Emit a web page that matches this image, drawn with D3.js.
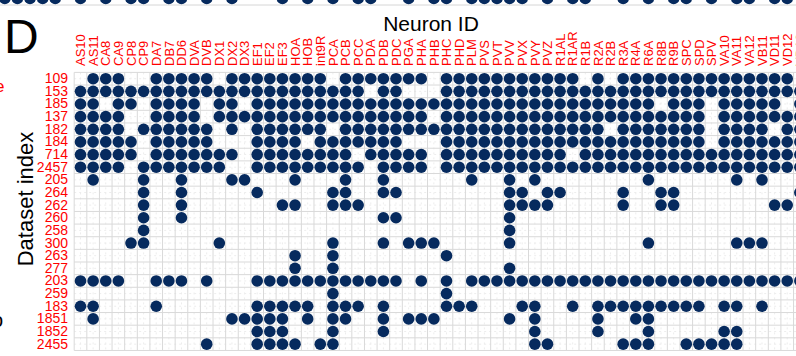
<!DOCTYPE html>
<html><head><meta charset="utf-8">
<script src="https://cdn.jsdelivr.net/npm/d3@7"></script>
<style>html,body{margin:0;padding:0;background:#fff;overflow:hidden}</style>
</head><body>
<svg id="chart" width="796" height="356"></svg>
<script>
// ---- data ----
const neurons = ["AS10","AS11","CA8","CA9","CP8","CP9","DA7","DB7","DD6","DVA","DVB","DX1","DX2","DX3","EF1","EF2","EF3","HOA","HOB","int9R","PCA","PCB","PCC","PDA","PDB","PDC","PGA","PHA","PHB","PHC","PHD","PLM","PVS","PVT","PVV","PVX","PVY","PVZ","R1AL","R1AR","R1B","R2A","R2B","R3A","R4A","R6A","R8B","R9B","SPC","SPD","SPV","VA10","VA11","VA12","VB11","VD11","VD12","VD13"];
const datasets = ["109","153","185","137","182","184","714","2457","205","264","262","260","258","300","263","277","203","259","183","1851","1852","2455"];
// one string per dataset, one character per neuron (1 = detected)
const presence = [
  "0111001111"+"1011111111"+"0111111101"+"1111111111"+"0101111111"+"11111110",
  "1111111111"+"1111111111"+"1110110001"+"1111111111"+"1111111111"+"11111111",
  "1101101111"+"0110111111"+"1111111111"+"1111111111"+"1111110111"+"01111101",
  "1111001111"+"0111111111"+"1111111101"+"1111111111"+"1111111111"+"01111111",
  "1111011111"+"1010111111"+"0111111111"+"1111111111"+"1101111111"+"01111011",
  "1111101111"+"1000111101"+"1111110001"+"1111111111"+"1111111111"+"01111111",
  "1111101111"+"1110111111"+"1101111101"+"1111111110"+"1111111111"+"11111111",
  "1111011111"+"1100111111"+"1110111101"+"1111111111"+"1111111111"+"11111111",
  "0100010010"+"0011000100"+"0100100000"+"0100101000"+"0000010000"+"00101000",
  "0000010010"+"0000100000"+"1100110000"+"0000110110"+"0001001100"+"00000001",
  "0000010010"+"0000001100"+"1110000000"+"0000111100"+"0001001100"+"00000110",
  "0000010010"+"0000000000"+"0000110000"+"0000100000"+"0000000000"+"00000000",
  "0000010000"+"0000000000"+"0000000000"+"0000100000"+"0000000000"+"00000000",
  "0000110000"+"0100000000"+"1000101110"+"0000100000"+"0000010000"+"00111000",
  "0000000000"+"0000000100"+"1000000001"+"0000000000"+"0000000000"+"00000000",
  "0000000000"+"0000000100"+"1000000000"+"0000100000"+"0000000000"+"00000000",
  "1111001110"+"1000111111"+"1111110101"+"0111111111"+"1111111111"+"11111111",
  "0000000000"+"0000000000"+"1000000001"+"0000000000"+"0000000000"+"00000000",
  "1100001000"+"0000111110"+"1110100001"+"1100011001"+"0111111111"+"01101000",
  "0100000000"+"0011111010"+"1100101110"+"0000101000"+"0100110000"+"00000000",
  "0000000000"+"0000111000"+"1000100000"+"0000001000"+"0100010000"+"01100000",
  "0000000000"+"1000111101"+"1000000000"+"0000001100"+"0001110011"+"11100000"
];
// last row of the (cropped) panel above, as column slots
const prevPanelSlots = [-6,-5,-4,-3,-2,0,2,4,5,7,8,10,12,16,18,20,22,23,26,28,29,31,32,33,34,35,37,39,40,43,45,47,48,50,52,53,55,56];
const panelLetter = "D";
const xTitle = "Neuron ID";
const yTitle = "Dataset index";

(function () {
const FONT = "'Liberation Sans', Arial, sans-serif";
const NAVY = "#062a5e";
const RED = "#ff0000";
const svg = d3.select("#chart").style("font-family", FONT);
svg.append("rect").attr("width", 796).attr("height", 356).attr("fill", "#fff");

const gLeft = 74.2, gTop = 72.4, cw = 12.62, rh = 12.64;
const x = d3.scaleBand().domain(neurons).range([gLeft, gLeft + neurons.length * cw]);
const y = d3.scaleBand().domain(datasets).range([gTop, gTop + datasets.length * rh]);
const gridRight = Math.min(796, x.range()[1]);
const gBottom = y.range()[1];

// panel above (cropped)
const slotDomain = d3.range(-6, neurons.length);
const xPrev = d3.scaleBand().domain(slotDomain).range([gLeft - 6 * cw, gLeft + neurons.length * cw]);
const yPrev = d3.scaleBand().domain(["prev"]).range([-8, 5]);
svg.append("line").attr("x1", 0).attr("x2", 796).attr("y1", 5).attr("y2", 5)
  .attr("stroke", "#d6d6d6").attr("stroke-width", 1);
svg.append("g").selectAll("circle").data(prevPanelSlots).join("circle")
  .attr("cx", d => xPrev(d) + xPrev.bandwidth() / 2)
  .attr("cy", yPrev("prev") + yPrev.bandwidth() / 2)
  .attr("r", 5.8).attr("fill", NAVY);

// grid
const grid = svg.append("g");
grid.selectAll("line.cv").data(neurons).join("line").attr("class", "cv")
  .attr("x1", d => x(d) + x.bandwidth() / 2).attr("x2", d => x(d) + x.bandwidth() / 2)
  .attr("y1", gTop).attr("y2", gBottom).attr("stroke", "#ededed").attr("stroke-dasharray", "2,3");
grid.selectAll("line.ch").data(datasets).join("line").attr("class", "ch")
  .attr("x1", gLeft).attr("x2", gridRight)
  .attr("y1", d => y(d) + y.bandwidth() / 2).attr("y2", d => y(d) + y.bandwidth() / 2)
  .attr("stroke", "#ededed").attr("stroke-dasharray", "2,3");
grid.selectAll("line.v").data(neurons.concat(["__end"])).join("line").attr("class", "v")
  .attr("x1", (d, i) => i < neurons.length ? x(d) : x.range()[1])
  .attr("x2", (d, i) => i < neurons.length ? x(d) : x.range()[1])
  .attr("y1", gTop).attr("y2", gBottom).attr("stroke", "#d9d9d9").attr("stroke-width", 1);
grid.selectAll("line.h").data(datasets.concat(["__end"])).join("line").attr("class", "h")
  .attr("x1", gLeft).attr("x2", gridRight)
  .attr("y1", (d, i) => i < datasets.length ? y(d) : gBottom)
  .attr("y2", (d, i) => i < datasets.length ? y(d) : gBottom)
  .attr("stroke", "#d9d9d9").attr("stroke-width", 1);

// dots
const cells = [];
datasets.forEach((ds, r) => {
  neurons.forEach((n, c) => { if (presence[r][c] === "1") cells.push({ ds, n }); });
});
svg.append("g").selectAll("circle").data(cells).join("circle")
  .attr("cx", d => x(d.n) + x.bandwidth() / 2)
  .attr("cy", d => y(d.ds) + y.bandwidth() / 2)
  .attr("r", 5.8).attr("fill", NAVY);

// column labels (top axis, rotated)
const xAxis = svg.append("g").attr("transform", "translate(0,66)")
  .call(d3.axisTop(x).tickSize(0).tickPadding(0));
xAxis.select(".domain").remove();
xAxis.selectAll("text")
  .attr("x", 0).attr("y", 0).attr("dy", "0.36em")
  .attr("transform", "rotate(-90)").attr("text-anchor", "start")
  .attr("fill", RED).style("font-size", "13px").style("font-family", FONT);

// row labels
const yAxis = svg.append("g").attr("transform", "translate(68,0)")
  .call(d3.axisLeft(y).tickSize(0).tickPadding(0));
yAxis.select(".domain").remove();
yAxis.selectAll("text").attr("fill", RED).style("font-size", "14px").style("font-family", FONT);

// titles
svg.append("text").attr("x", 431).attr("y", 31).attr("text-anchor", "middle")
  .style("font-size", "21px").attr("fill", "#000").text(xTitle);
svg.append("text").attr("transform", "translate(33,199) rotate(-90)").attr("text-anchor", "middle")
  .style("font-size", "22px").attr("fill", "#000").text(yTitle);
svg.append("text").attr("x", 4).attr("y", 53).style("font-size", "48px").attr("fill", "#000").text(panelLetter);

// fragments of neighbouring cropped panels
svg.append("text").attr("x", -5).attr("y", 92).style("font-size", "17px").attr("fill", RED).text("e");
svg.append("text").attr("x", -8).attr("y", 327).style("font-size", "20px").attr("fill", "#000").text("o");
})();
</script>
</body></html>
